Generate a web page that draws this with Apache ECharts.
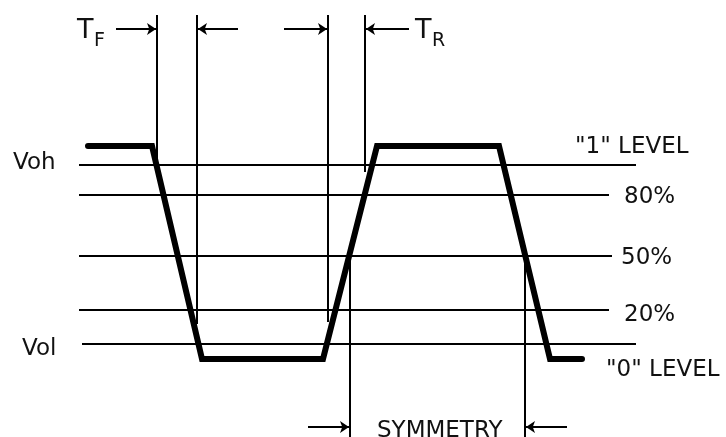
<!DOCTYPE html>
<html>
<head>
<meta charset="utf-8">
<script src="https://cdn.jsdelivr.net/npm/echarts@6/dist/echarts.min.js"></script>
<style>html,body{margin:0;padding:0;background:#fff}#c{width:726px;height:437px}</style>
</head>
<body>
<div id="c"></div>
<script>
// Waveform vertices (time, level)
const waveX = [88, 152, 202, 323, 377, 499, 550, 582];
const waveY = [146, 146, 359, 359, 146, 146, 359, 359];

// Reference levels
const levelY = [165, 195, 256, 310, 344];
const levelStartX = [79, 79, 79, 79, 82];
const levelEndX = [636, 609, 612, 609, 636];

// Vertical markers for TF / TR
const markerX = [157, 197, 328, 365];
const markerTop = [15, 15, 15, 15];
const markerBottom = [163, 324, 322, 172];

// Symmetry markers
const symX = [350, 525];
const symTop = [256, 256];
const symBottom = [437, 437];

// Dimension arrows: from -> to
const arrowFromX = [116, 238, 284, 409, 308, 567];
const arrowToX = [156, 198, 327, 366, 349, 526];
const arrowY = [29, 29, 29, 29, 427, 427];

// Text labels
const labelText = ['Voh', 'Vol', '"1" LEVEL', '80%', '50%', '20%', '"0" LEVEL', 'SYMMETRY', 'T', 'F', 'T', 'R'];
const labelX = [13, 22, 575, 624, 621, 624, 606, 377, 77, 94, 415, 432];
const labelY = [163, 349, 147, 197, 258, 315, 370, 431, 31, 41, 31, 41];
const labelSize = [23, 23, 23, 23, 23, 23, 23, 23, 27, 19, 27, 19];

const seriesList = [];
const lineStyle = (w) => ({ color: '#000', width: w });

levelY.forEach((y, i) => {
  seriesList.push({
    type: 'line', symbol: 'none', silent: true,
    lineStyle: lineStyle(2),
    data: [[levelStartX[i], y], [levelEndX[i], y]]
  });
});
markerX.forEach((x, i) => {
  seriesList.push({
    type: 'line', symbol: 'none', silent: true,
    lineStyle: lineStyle(2),
    data: [[x, markerTop[i]], [x, markerBottom[i]]]
  });
});
symX.forEach((x, i) => {
  seriesList.push({
    type: 'line', symbol: 'none', silent: true,
    lineStyle: lineStyle(2),
    data: [[x, symTop[i]], [x, symBottom[i]]]
  });
});
seriesList.push({
  type: 'line', symbol: 'none', silent: true,
  lineStyle: { color: '#000', width: 6, cap: 'round', join: 'miter' },
  data: waveX.map((x, i) => [x, waveY[i]])
});
seriesList.push({
  type: 'lines', coordinateSystem: 'cartesian2d', silent: true,
  symbol: ['none', 'arrow'], symbolSize: [7, 9],
  lineStyle: { color: '#000', width: 2, opacity: 1 },
  data: arrowFromX.map((x, i) => ({ coords: [[x, arrowY[i]], [arrowToX[i], arrowY[i]]] }))
});
seriesList.push({
  type: 'scatter', symbolSize: 0, silent: true,
  itemStyle: { opacity: 1, color: '#000' },
  data: labelText.map((t, i) => ({
    value: [labelX[i], labelY[i]],
    label: {
      show: true, formatter: t, position: [0, 0], align: 'left', verticalAlign: 'middle',
      fontFamily: 'DejaVu Sans, sans-serif', fontSize: labelSize[i], color: '#111', opacity: 1
    }
  }))
});

const chart = echarts.init(document.getElementById('c'));
chart.setOption({
  animation: false,
  backgroundColor: '#fff',
  grid: { left: 0, right: 0, top: 0, bottom: 0 },
  xAxis: { type: 'value', min: 0, max: 726, show: false },
  yAxis: { type: 'value', min: 0, max: 437, inverse: true, show: false },
  series: seriesList
});
</script>
</body>
</html>
